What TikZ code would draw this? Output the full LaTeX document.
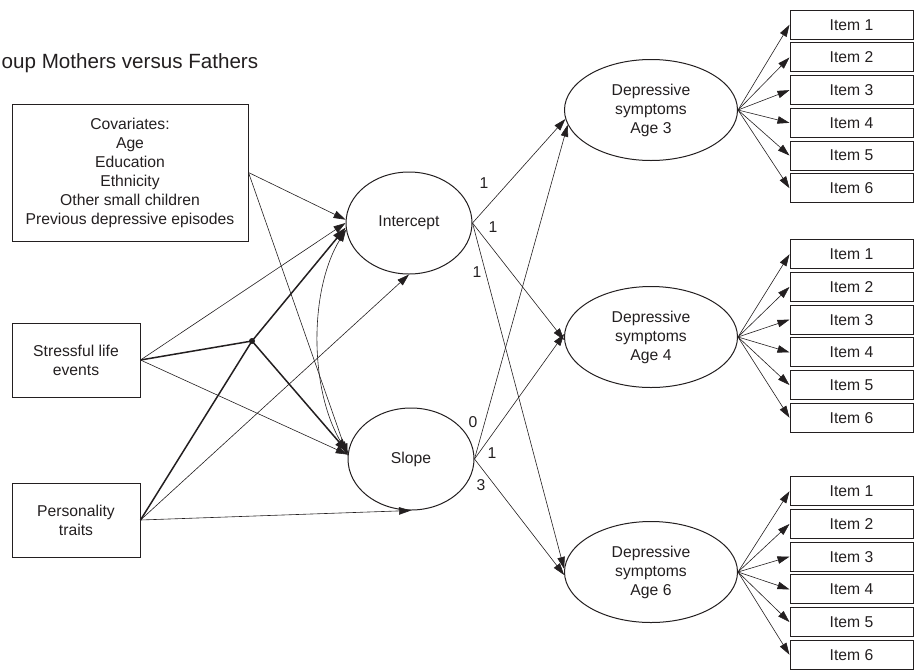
\documentclass[tikz,border=0pt]{standalone}
\usepackage{fontspec}
\setmainfont{Liberation Sans}
\usetikzlibrary{shapes.geometric,arrows.meta}
\definecolor{ink}{HTML}{231F20}
\begin{document}
\begin{tikzpicture}[x=1pt,y=-1pt,
  every node/.style={font=\fontsize{15.7}{19}\selectfont, text=ink},
  rbox/.style={draw=ink, line width=1pt, rectangle, inner sep=0pt, align=center},
  lat/.style={draw=ink, line width=1pt, ellipse, inner sep=0pt, align=center},
  itembox/.style={rbox, minimum width=123pt, minimum height=29pt},
  conn/.style={draw=ink, line width=0.6pt, -{Triangle[length=12pt,width=7.5pt]}},
  thickline/.style={draw=ink, line width=1.5pt},
  thickconn/.style={draw=ink, line width=1.5pt, -{Triangle[length=14pt,width=9pt]}},
  dconn/.style={draw=ink, line width=0.6pt, {Triangle[length=12pt,width=7.5pt]}-{Triangle[length=12pt,width=7.5pt]}},
  lbl/.style={inner sep=0pt}
]
\useasboundingbox (0,0) rectangle (915,670);

% title
\node[font=\fontsize{20.6}{25}\selectfont, anchor=base west, inner sep=0pt] (title) at (1.5,68) {oup Mothers versus Fathers};

% observed predictors
\node[rbox, minimum width=236pt, minimum height=137pt] (cov) at (130,172.5)
  {Covariates:\\Age\\Education\\Ethnicity\\Other small children\\Previous depressive episodes};
\node[rbox, minimum width=128pt, minimum height=74pt] (stress) at (76,360) {Stressful life\\events};
\node[rbox, minimum width=128pt, minimum height=74pt] (pers) at (76,520) {Personality\\traits};

% interaction dot
\node[circle, fill=ink, inner sep=0pt, minimum size=6pt] (dot) at (252,341) {};

% growth factors
\node[lat, minimum width=126pt, minimum height=102pt] (int) at (409,223) {Intercept};
\node[lat, minimum width=126pt, minimum height=102pt] (slope) at (411,459) {Slope};

% depressive symptoms
\node[lat, minimum width=173pt, minimum height=101pt] (age3) at (651,110) {Depressive\\symptoms\\Age 3};
\node[lat, minimum width=173pt, minimum height=101pt] (age4) at (651,337) {Depressive\\symptoms\\Age 4};
\node[lat, minimum width=173pt, minimum height=101pt] (age6) at (651,572) {Depressive\\symptoms\\Age 6};

% items
\foreach \g/\c/\e in {a/106.5/age3, b/336/age4, c/573/age6} {
  \foreach \k/\o in {1/-81.75, 2/-49.05, 3/-16.35, 4/16.35, 5/49.05, 6/81.75} {
    \node[itembox] (item\g\k) at (851.5, {\c+(\o)}) {Item \k};
    \draw[conn] (\e.east) -- (item\g\k.west);
  }
}

% predictor paths
\draw[conn] (cov.east) -- (int.177);
\draw[conn] (cov.east) -- (slope.177);
\draw[conn] (stress.east) -- (int.180);
\draw[conn] (stress.east) -- (slope.176);
\draw[conn] (pers.east) -- (int.south);
\draw[conn] (pers.east) -- (slope.south);
\draw[thickline] (stress.east) -- (dot.center);
\draw[thickline] (pers.east) -- (dot.center);
\draw[thickconn] (dot.center) -- (int.184);
\draw[thickconn] (dot.center) -- (slope.174);
\draw[dconn] (int.186) .. controls (309,290) and (309,390) .. (slope.175);

% loadings
\draw[conn] (int.east) -- (age3.186);
\draw[conn] (int.east) -- (age4.182);
\draw[conn] (int.east) -- (age6.178);
\draw[conn] (slope.east) -- (age3.190);
\draw[conn] (slope.east) -- (age4.178);
\draw[conn] (slope.east) -- (age6.182);

\node[lbl] (l1) at (484,183) {1};
\node[lbl] (l2) at (493,227) {1};
\node[lbl] (l3) at (477,272) {1};
\node[lbl] (l4) at (473,422) {0};
\node[lbl] (l5) at (492,453) {1};
\node[lbl] (l6) at (481,485) {3};
\end{tikzpicture}
\end{document}
